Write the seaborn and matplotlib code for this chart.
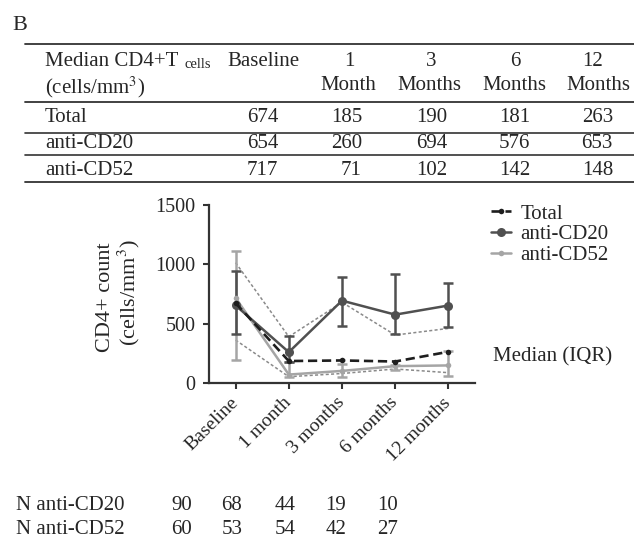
import numpy as np
import pandas as pd
import matplotlib
matplotlib.use("Agg")
import matplotlib.pyplot as plt
import seaborn as sns
from matplotlib.lines import Line2D

sns.set_theme(style="ticks")
plt.rcParams['font.family'] = ['Liberation Serif', 'DejaVu Serif']
plt.rcParams['mathtext.fontset'] = 'stix'

# ---------------- data ----------------
timepoints = ["Baseline", "1 month", "3 months", "6 months", "12 months"]
table_cols_top = ["Baseline", "1", "3", "6", "12"]
table_cols_bottom = ["", "Month", "Months", "Months", "Months"]
groups = ["Total", "anti-CD20", "anti-CD52"]

median_total = [674, 185, 190, 181, 263]
median_cd20 = [654, 260, 694, 576, 653]
median_cd52 = [717, 71, 102, 142, 148]

cd20_q1 = [413, 175, 480, 413, 469]
cd20_q3 = [943, 398, 890, 918, 845]
cd52_q1 = [194, 53, 50, 110, 60]
cd52_q3 = [1114, 180, 160, 150, 270]

dotted_upper = [1014, 390, 680, 404, 460]
dotted_lower = [362, 53, 80, 118, 87]

n_cd20 = [90, 68, 44, 19, 10]
n_cd52 = [60, 53, 54, 42, 27]

W, H = 634, 540
fig = plt.figure(figsize=(W / 100, H / 100), dpi=100)

def fx(px):
    return px / W

def fy(py):
    return 1 - py / H

FS = 15

# ---------------- table ----------------
fig.text(fx(12), fy(26), "B", fontsize=16, ha="left", va="center")
for yl, lw in [(44, 1.3), (102, 1.3), (133, 1.2), (155, 1.2), (182, 1.3)]:
    fig.add_artist(Line2D([fx(25), fx(634)], [fy(yl), fy(yl)], color="#333333", lw=lw))

fig.text(fx(45), fy(62), "Median CD4+T", fontsize=FS, ha="left", va="center")
fig.text(fx(184), fy(64), "cells", fontsize=10.5, ha="left", va="center")
fig.text(fx(45), fy(87), r"(cells/mm$^3$)", fontsize=FS, ha="left", va="center")

col_top_x = [227, 349, 431, 515, 593]
col_bot_x = [0, 348, 429, 514, 598]
for i, (t, b) in enumerate(zip(table_cols_top, table_cols_bottom)):
    if i == 0:
        fig.text(fx(col_top_x[i]), fy(62), t, fontsize=FS, ha="left", va="center")
    else:
        fig.text(fx(col_top_x[i]), fy(62), t, fontsize=FS, ha="center", va="center")
        fig.text(fx(col_bot_x[i]), fy(86), b, fontsize=FS, ha="center", va="center")

val_right_x = [278, 362, 447, 530, 613]
row_y = [118, 144, 170]
for g, vals, ry in zip(groups, [median_total, median_cd20, median_cd52], row_y):
    fig.text(fx(45), fy(ry), g, fontsize=FS, ha="left", va="center")
    for v, rx in zip(vals, val_right_x):
        fig.text(fx(rx), fy(ry), str(v), fontsize=FS, ha="right", va="center")

# ---------------- chart ----------------
ax = fig.add_axes([fx(209), fy(383), fx(475) - fx(209), fy(205) - fy(383)])
x = np.arange(len(timepoints))

c_total = "#1e1e1e"
c_cd20 = "#505050"
c_cd52 = "#a5a5a5"
c_dot = "#8a8a8a"

# dotted quartile traces
sns.lineplot(x=x, y=dotted_upper, ax=ax, color=c_dot, lw=1.1, linestyle=(0, (2, 1.5)), zorder=2)
sns.lineplot(x=x, y=dotted_lower, ax=ax, color=c_dot, lw=1.1, linestyle=(0, (2, 1.5)), zorder=2)

# error bars (IQR)
ax.errorbar(x, median_cd52,
            yerr=[np.array(median_cd52) - np.array(cd52_q1), np.array(cd52_q3) - np.array(median_cd52)],
            fmt="none", ecolor=c_cd52, elinewidth=1.8, capsize=3.5, capthick=1.8, zorder=3)
ax.errorbar(x, median_cd20,
            yerr=[np.array(median_cd20) - np.array(cd20_q1), np.array(cd20_q3) - np.array(median_cd20)],
            fmt="none", ecolor=c_cd20, elinewidth=1.8, capsize=3.5, capthick=1.8, zorder=4)

df = pd.DataFrame({
    "time": np.tile(x, 3),
    "value": median_total + median_cd20 + median_cd52,
    "group": np.repeat(groups, len(x)),
})
sns.lineplot(data=df[df.group == "anti-CD52"], x="time", y="value", ax=ax, color=c_cd52,
             lw=1.8, marker="o", markersize=4, markeredgewidth=0, zorder=5, label="anti-CD52")
sns.lineplot(data=df[df.group == "anti-CD20"], x="time", y="value", ax=ax, color=c_cd20,
             lw=1.8, marker="o", markersize=6.5, markeredgewidth=0, zorder=6, label="anti-CD20")
sns.lineplot(data=df[df.group == "Total"], x="time", y="value", ax=ax, color=c_total,
             lw=1.9, linestyle=(0, (3.5, 1.8)), marker="o", markersize=4, markeredgewidth=0,
             zorder=7, label="Total")

ax.set_xlim(-0.5, 4.5)
ax.set_ylim(0, 1500)
ax.set_yticks([0, 500, 1000, 1500])
ax.set_xticks(x)
ax.set_xticklabels(timepoints, rotation=45, ha="right", va="center", rotation_mode="anchor",
                   fontsize=14)
ax.tick_params(axis="y", labelsize=14.5, length=4.3, width=1.5, color="#333333", pad=5.5)
ax.tick_params(axis="x", length=4.3, width=1.5, color="#333333", pad=8)
for s in ["top", "right"]:
    ax.spines[s].set_visible(False)
for s in ["left", "bottom"]:
    ax.spines[s].set_linewidth(1.6)
    ax.spines[s].set_color("#333333")
ax.set_xlabel("")
ax.set_ylabel("")
ax.grid(False)

fig.text(fx(105), fy(297), "CD4+ count", fontsize=16, rotation=90, ha="center", va="center")
fig.text(fx(129), fy(293), r"(cells/mm$^3$)", fontsize=16, rotation=90, ha="center", va="center")

handles, labels = ax.get_legend_handles_labels()
order = [labels.index(l) for l in groups]
if ax.get_legend() is not None:
    ax.get_legend().remove()
fig.legend([handles[i] for i in order], [labels[i] for i in order],
           loc="upper left", bbox_to_anchor=(fx(491), fy(204)), frameon=False,
           fontsize=15, handlelength=0.95, handletextpad=0.45, labelspacing=0.05,
           borderaxespad=0, borderpad=0)

fig.text(fx(493), fy(357), "Median (IQR)", fontsize=15, ha="left", va="center")

# ---------------- N rows ----------------
n_x = [182, 232, 285, 336, 388]
for lab, vals, ry in [("N anti-CD20", n_cd20, 506), ("N anti-CD52", n_cd52, 530)]:
    fig.text(fx(16), fy(ry), lab, fontsize=15, ha="left", va="center")
    for v, cx in zip(vals, n_x):
        fig.text(fx(cx), fy(ry), str(v), fontsize=15, ha="center", va="center")

fig.savefig("out.png", dpi=100)
